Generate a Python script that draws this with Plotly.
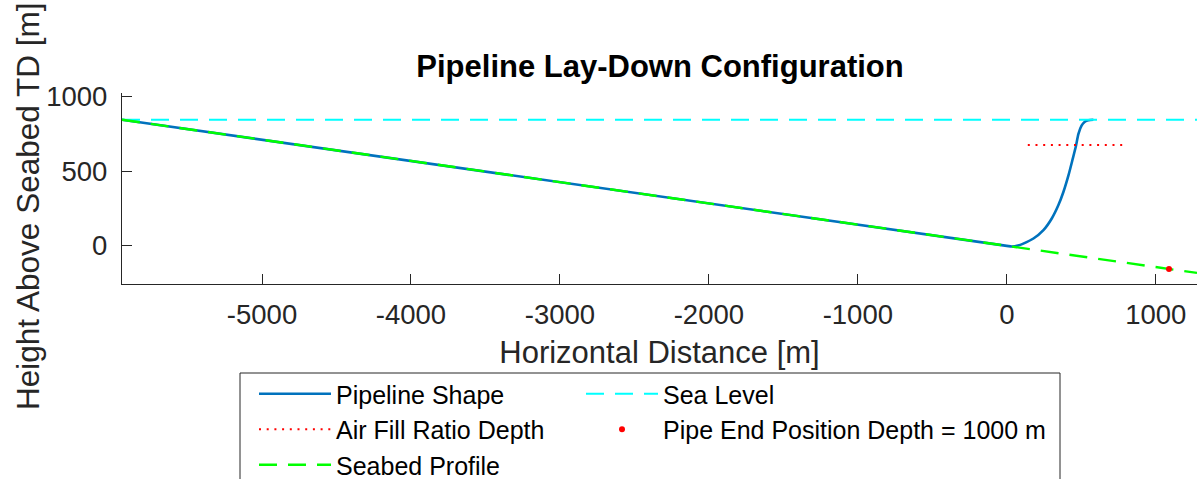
import plotly.graph_objects as go

# ---- data ----
pipe_x = [-5940, 0, 35, 75, 111, 179, 246, 302, 346, 380, 414, 443, 465, 481, 503, 522, 540, 560, 581]
pipe_y = [843, 0, -4, 2, 15, 49, 105, 183, 271, 360, 471, 583, 671, 749, 805, 828, 838, 842, 843]

sea_x = [-5940, 1277]
sea_y = [843, 843]

air_x = [141, 783]
air_y = [674, 674]

seabed_x = [-5940, 1277]
seabed_y = [843, -181]

end_x = [1089]
end_y = [-155]

x_ticks = [-5000, -4000, -3000, -2000, -1000, 0, 1000]
y_ticks = [0, 500, 1000]

FONT = "Liberation Sans, Arial, Helvetica, sans-serif"
AX = "#262626"

fig = go.Figure()
fig.add_trace(go.Scatter(x=pipe_x, y=pipe_y, mode="lines", name="Pipeline Shape",
                         line=dict(color="#0072BD", width=2.6, shape="spline", smoothing=0.7),
                         legend="legend", legendrank=1))
fig.add_trace(go.Scatter(x=sea_x, y=sea_y, mode="lines", name="Sea Level",
                         line=dict(color="#00FFFF", width=2, dash="18px,11px"),
                         legend="legend2", legendrank=1))
fig.add_trace(go.Scatter(x=air_x, y=air_y, mode="lines", name="Air Fill Ratio Depth",
                         line=dict(color="#FF0000", width=2, dash="2px,5.7px"),
                         legend="legend", legendrank=2))
fig.add_trace(go.Scatter(x=seabed_x, y=seabed_y, mode="lines", name="Seabed Profile",
                         line=dict(color="#00FF00", width=2.4, dash="18px,11px"),
                         legend="legend", legendrank=3))
fig.add_trace(go.Scatter(x=end_x, y=end_y, mode="markers",
                         name="Pipe End Position Depth = 1000 m",
                         marker=dict(color="#FF0000", size=6),
                         legend="legend2", legendrank=2))

W, H = 1197, 479
L, R, T, B = 122, 0, 93, 195
pw, ph = W - L - R, H - T - B

def px_x(p):
    return (p - L) / pw

def px_y(p):
    return (H - B - p) / ph

leg_common = dict(orientation="v", yanchor="top", xanchor="left",
                  xref="paper", yref="paper",
                  font=dict(size=25, color="black", family=FONT),
                  bgcolor="rgba(0,0,0,0)", borderwidth=0,
                  itemwidth=72, traceorder="normal", tracegroupgap=0)

fig.update_layout(
    width=W, height=H,
    margin=dict(l=L, r=R, t=T, b=B, autoexpand=False),
    paper_bgcolor="white", plot_bgcolor="white",
    font=dict(family=FONT, color=AX),
    title=dict(text="<b>Pipeline Lay-Down Configuration</b>",
               font=dict(size=31, color="black", family=FONT),
               x=px_x(660), xanchor="center", xref="paper",
               y=1 - 66 / H, yanchor="middle", yref="container"),
    showlegend=True,
    legend=dict(x=px_x(254), y=px_y(371), **leg_common),
    legend2=dict(x=px_x(581), y=px_y(371), **leg_common),
    xaxis=dict(range=[-5940, 1277], tickvals=x_ticks, ticktext=[str(v) for v in x_ticks],
               ticks="inside", ticklen=10, tickwidth=1.3, tickcolor=AX,
               showline=True, linecolor=AX, linewidth=1.3, mirror=False,
               showgrid=False, zeroline=False, ticklabelstandoff=6,
               tickfont=dict(size=27.5, color=AX, family=FONT),
               title=dict(text="Horizontal Distance [m]", font=dict(size=31, color=AX, family=FONT),
                          standoff=12)),
    yaxis=dict(range=[-255, 1022], tickvals=y_ticks, ticktext=[str(v) for v in y_ticks],
               ticks="inside", ticklen=10, tickwidth=1.3, tickcolor=AX,
               showline=True, linecolor=AX, linewidth=1.3,
               mirror=False, showgrid=False, zeroline=False, ticklabelstandoff=8,
               tickfont=dict(size=27.5, color=AX, family=FONT)),
    annotations=[dict(text="Height Above Seabed TD [m]", textangle=-90,
                      x=px_x(28), y=px_y(207), xref="paper", yref="paper",
                      xanchor="center", yanchor="middle", showarrow=False,
                      font=dict(size=31.5, color=AX, family=FONT))],
    shapes=[dict(type="rect", xref="paper", yref="paper",
                 x0=px_x(240), x1=px_x(1060), y0=px_y(373), y1=px_y(540),
                 line=dict(color=AX, width=1), fillcolor="white", layer="below")],
)

fig.write_html("out.html")
